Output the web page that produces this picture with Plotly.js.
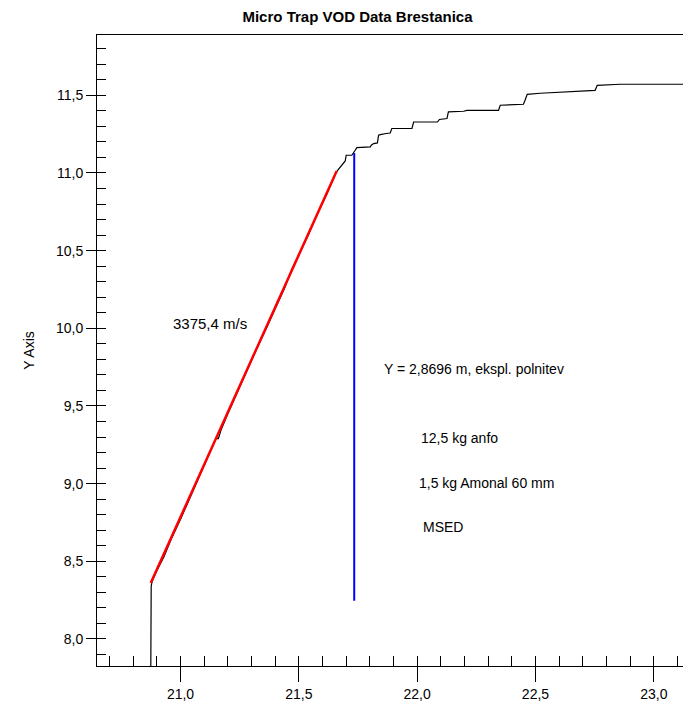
<!DOCTYPE html>
<html><head><meta charset="utf-8">
<script src="https://cdn.plot.ly/plotly-3.0.1.min.js"></script>
<style>html,body{margin:0;padding:0;overflow:hidden;background:#fff;width:683px;height:706px}#chart{width:690px;height:706px}</style>
</head><body><div id="chart"></div>
<script>
// VOD measurement (time in ms on x, position in m on y)
const vodX = [20.874, 20.874, 20.876, 20.880, 20.90, 20.93, 20.96, 21.00, 21.04, 21.08, 21.12, 21.15, 21.16, 21.17, 21.20, 21.24, 21.28, 21.32, 21.36, 21.40, 21.44, 21.47, 21.50, 21.54, 21.58, 21.62, 21.658,
  21.678, 21.696, 21.700, 21.724, 21.738, 21.745, 21.802, 21.806, 21.816, 21.832, 21.837, 21.844, 21.869, 21.886, 21.893, 21.978, 21.985, 22.086, 22.094, 22.126, 22.132, 22.196, 22.210, 22.344, 22.351, 22.449, 22.456, 22.465, 22.52, 22.604, 22.731, 22.752, 22.761, 22.858, 23.20];
const vodY = [7.70, 8.30, 8.34, 8.37, 8.44, 8.53, 8.64, 8.77, 8.91, 9.04, 9.18, 9.29, 9.29, 9.34, 9.45, 9.59, 9.73, 9.86, 9.99, 10.13, 10.26, 10.38, 10.47, 10.60, 10.74, 10.87, 11.006,
  11.043, 11.077, 11.114, 11.114, 11.146, 11.163, 11.168, 11.178, 11.189, 11.193, 11.243, 11.247, 11.254, 11.257, 11.286, 11.286, 11.328, 11.328, 11.344, 11.350, 11.393, 11.397, 11.403, 11.403, 11.436, 11.442, 11.468, 11.506, 11.513, 11.519, 11.526, 11.532, 11.564, 11.571, 11.571];
// fitted velocity line (3375,4 m/s)
const fitX = [20.874, 21.660];
const fitY = [8.360, 11.013];
// marker line at charge position
const markX = [21.734, 21.734];
const markY = [8.246, 11.129];
// labels
const noteText = ["3375,4 m/s", "Y = 2,8696 m, ekspl. polnitev", "12,5 kg anfo", "1,5 kg Amonal 60 mm", "MSED"];
const noteX = [20.960, 21.852, 22.008, 22.000, 22.017];
const noteY = [10.03, 9.737, 9.293, 9.003, 8.720];

const F = "Liberation Sans, Arial, sans-serif";
const traces = [
  {x: vodX, y: vodY, type: 'scatter', mode: 'lines', line: {color: '#000', width: 1.2}, hoverinfo: 'skip'},
  {x: fitX, y: fitY, type: 'scatter', mode: 'lines', line: {color: '#ff0000', width: 2.5}, hoverinfo: 'skip'},
  {x: markX, y: markY, type: 'scatter', mode: 'lines', line: {color: '#0000ff', width: 2}, xaxis: 'x2', yaxis: 'y2', hoverinfo: 'skip'}
];
const xr = [20.647, 23.153], yr = [7.826, 11.888];
const annotations = noteText.map((t, i) => ({
  x: noteX[i], y: noteY[i], xref: 'x', yref: 'y', text: t, showarrow: false,
  xanchor: 'left', yanchor: 'middle', font: {family: F, size: i === 0 ? 15 : 14, color: '#000'}
}));
const layout = {
  width: 690, height: 706,
  margin: {l: 97, r: 0, t: 35, b: 40},
  paper_bgcolor: '#fff', plot_bgcolor: '#fff',
  showlegend: false,
  separators: ',.',
  font: {family: F, color: '#000'},
  title: {text: '<b>Micro Trap VOD Data Brestanica</b>', font: {family: F, size: 15, color: '#000'}, x: 357.5 / 690, xanchor: 'center', xref: 'container', y: 0.976, yanchor: 'middle'},
  xaxis: {range: xr, tick0: 21, dtick: 0.5, ticks: 'outside', ticklen: 15, tickwidth: 1, tickcolor: '#000',
    showline: true, mirror: true, linecolor: '#000', linewidth: 1, showgrid: false, zeroline: false,
    tickformat: '.1f', tickfont: {family: F, size: 14, color: '#000'}},
  yaxis: {range: yr, tick0: 8, dtick: 0.5, ticks: 'outside', ticklen: 10, tickwidth: 1, tickcolor: '#000',
    showline: true, mirror: true, linecolor: '#000', linewidth: 1, showgrid: false, zeroline: false,
    tickformat: '.1f', tickfont: {family: F, size: 14, color: '#000'},
    title: {text: 'Y Axis', font: {family: F, size: 14, color: '#000'}, standoff: 18}},
  xaxis2: {range: xr, overlaying: 'x', anchor: 'y2', side: 'bottom', tick0: 21, dtick: 0.1, ticks: 'inside', ticklen: 10,
    tickwidth: 1, tickcolor: '#000', showticklabels: false, showline: false, showgrid: false, zeroline: false},
  yaxis2: {range: yr, overlaying: 'y', anchor: 'x2', side: 'left', tick0: 8, dtick: 0.1, ticks: 'inside', ticklen: 9,
    tickwidth: 1, tickcolor: '#000', showticklabels: false, showline: false, showgrid: false, zeroline: false},
  annotations: annotations
};
Plotly.newPlot('chart', traces, layout, {staticPlot: true, displayModeBar: false});
</script></body></html>
